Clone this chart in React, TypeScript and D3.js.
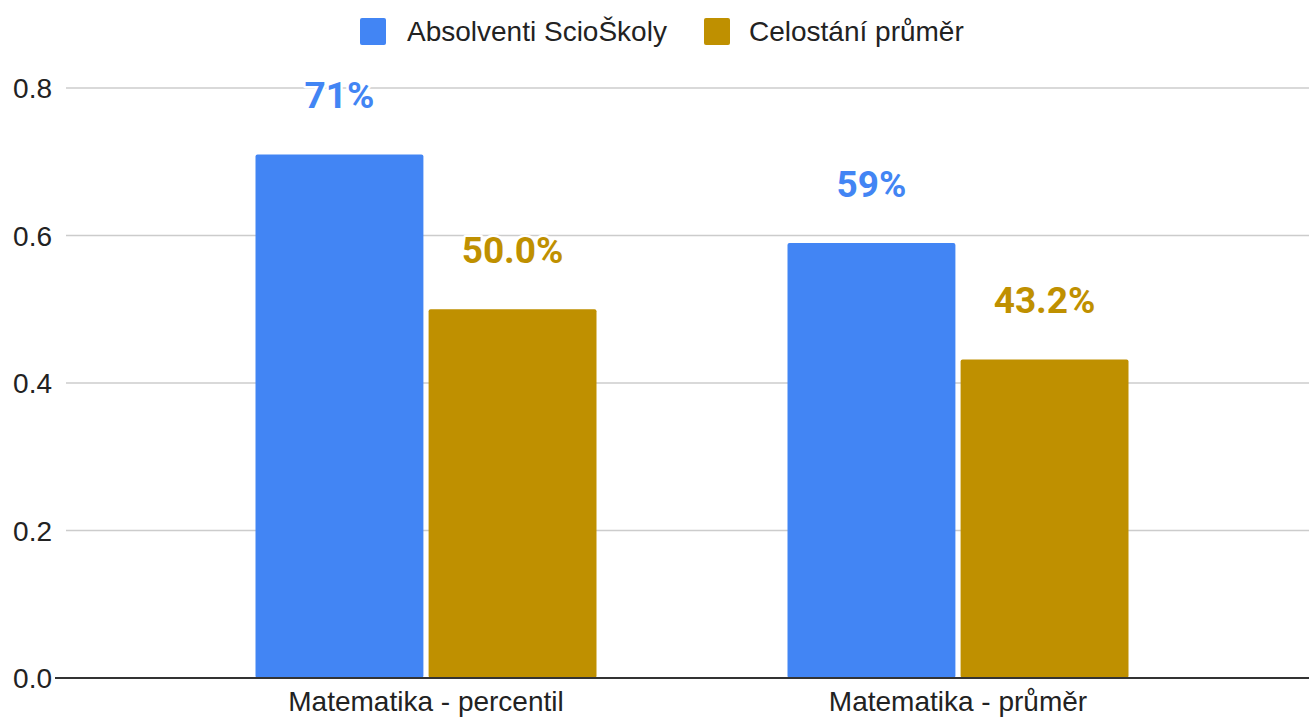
import React from 'react'
import * as d3 from 'd3'

const categories = ['Matematika - percentil', 'Matematika - průměr']
const seriesNames = ['Absolventi ScioŠkoly', 'Celostání průměr']
const seriesColors = ['#4285f4', '#bf9000']
const scioValues = [0.71, 0.59]
const nationalValues = [0.5, 0.432]
const labelFormats = ['.0%', '.1%']
const yTicks = [0, 0.2, 0.4, 0.6, 0.8]

const W = 1309
const H = 718
const sans = '"Liberation Sans", Arial, sans-serif'

export default () => {
  const y = d3.scaleLinear().domain([0, 0.8]).range([678, 88])
  const x0 = d3.scaleBand().domain(categories).range([160, 1224])
  const groupW = 341
  const x1 = d3.scaleBand().domain(seriesNames).range([0, groupW]).paddingInner(0.03)
  const values = [scioValues, nationalValues]

  // legend layout (swatch left, text start)
  const legendItems = [
    { x: 360, textX: 407 },
    { x: 704, textX: 749 },
  ]

  return (
    <svg width={W} height={H} style={{ position: 'absolute', left: 0, top: 0, fontFamily: sans }}>
      <rect width={W} height={H} fill="#fff" />
      {/* legend */}
      {seriesNames.map((s, i) => (
        <g key={s}>
          <rect x={legendItems[i].x} y={18} width={26} height={27} rx={2} fill={seriesColors[i]} />
          <text x={legendItems[i].textX} y={41} fontSize={28} fill="#222">{s}</text>
        </g>
      ))}
      {/* grid + y axis */}
      {yTicks.map(t => (
        <g key={t}>
          {t > 0 && <line x1={66} x2={W} y1={y(t)} y2={y(t)} stroke="#cccccc" strokeWidth={1.5} />}
          <text x={52} y={y(t) + 10} textAnchor="end" fontSize={28} fill="#222">{d3.format('.1f')(t)}</text>
        </g>
      ))}
      {/* bars */}
      {categories.map((c, ci) => {
        const gx = (x0(c) as number) + x0.bandwidth() / 2 - groupW / 2
        return (
          <g key={c} transform={`translate(${gx},0)`}>
            {seriesNames.map((s, si) => {
              const v = values[si][ci]
              const bx = x1(s) as number
              return (
                <rect key={s} x={bx} y={y(v)} width={x1.bandwidth()} height={y(0) - y(v)} rx={2} fill={seriesColors[si]} />
              )
            })}
          </g>
        )
      })}
      {/* data labels */}
      {categories.map((c, ci) => {
        const gx = (x0(c) as number) + x0.bandwidth() / 2 - groupW / 2
        return (
          <g key={c + '-lab'} transform={`translate(${gx},0)`}>
            {seriesNames.map((s, si) => {
              const v = values[si][ci]
              const bx = (x1(s) as number) + x1.bandwidth() / 2
              return (
                <text key={s} x={bx} y={y(v) - 46} textAnchor="middle" fontSize={37} fontWeight="bold"
                  fontFamily="Roboto, sans-serif"
                  fill={seriesColors[si]} stroke="#fff" strokeWidth={5} paintOrder="stroke" strokeLinejoin="round">
                  {d3.format(labelFormats[si])(v)}
                </text>
              )
            })}
          </g>
        )
      })}
      {/* baseline */}
      <line x1={55} x2={W} y1={y(0)} y2={y(0)} stroke="#333" strokeWidth={2} />
      {/* x labels */}
      {categories.map(c => (
        <text key={c} x={(x0(c) as number) + x0.bandwidth() / 2} y={711} textAnchor="middle" fontSize={28} fill="#222">{c}</text>
      ))}
    </svg>
  )
}
